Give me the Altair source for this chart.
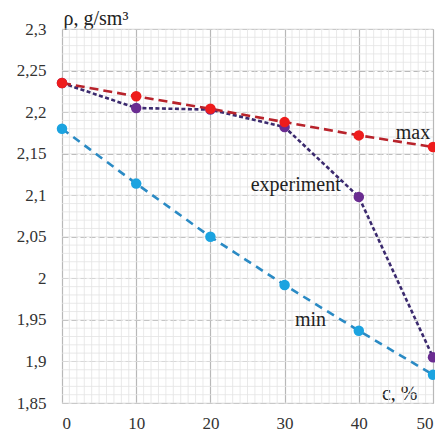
import altair as alt
import pandas as pd

# ---- data ----
c_values = [0, 10, 20, 30, 40, 50]
rho_max = [2.235, 2.219, 2.204, 2.188, 2.172, 2.158]
rho_exp = [2.235, 2.205, 2.203, 2.182, 2.098, 1.905]
rho_min = [2.180, 2.114, 2.050, 1.992, 1.937, 1.884]

x_ticks = [0, 10, 20, 30, 40, 50]
y_ticks = [1.85, 1.9, 1.95, 2.0, 2.05, 2.1, 2.15, 2.2, 2.25, 2.3]
x_minor = [v for v in range(0, 51) if v % 10 != 0]
y_minor = [round(1.85 + 0.01 * i, 2) for i in range(46)]

labels = ["max", "experiment", "min"]
label_c = [47.3, 31.5, 33.5]
label_rho = [2.175, 2.112, 1.950]

FONT = "Liberation Serif"
W, H = 371, 374

xs = alt.Scale(domain=[0, 50], nice=False, zero=False)
ys = alt.Scale(domain=[1.85, 2.3], nice=False, zero=False)

xaxis = alt.Axis(values=x_ticks, grid=True, gridColor="#b8b8b8", gridWidth=1.2,
                 domain=False, ticks=False, labelPadding=12, labelFontSize=17,
                 labelFont=FONT, labelColor="#333333",
                 title="c, %", titleFont=FONT, titleFontSize=20, titleFontWeight="normal",
                 titleColor="#222222", titleAngle=0, titleAlign="right", titleBaseline="alphabetic",
                 titleX=355, titleY=-4)
yaxis = alt.Axis(values=y_ticks, grid=True, gridColor="#b8b8b8", gridWidth=1.2, gridDash=[6, 3],
                 domain=False, ticks=False, labelPadding=16, labelFontSize=17,
                 labelFont=FONT, labelColor="#333333",
                 labelExpr="replace(format(datum.value, '.2~f'), '.', ',')",
                 title="ρ, g/sm³", titleFont=FONT, titleFontSize=20, titleFontWeight="normal",
                 titleColor="#222222", titleAngle=0, titleAlign="left", titleBaseline="alphabetic",
                 titleX=1, titleY=-5)

minor_x = alt.Chart(pd.DataFrame({"c": x_minor})).mark_rule(
    color="#e3e3e3", strokeWidth=0.8).encode(x=alt.X("c:Q", scale=xs, axis=xaxis))
minor_y = alt.Chart(pd.DataFrame({"rho": y_minor})).mark_rule(
    color="#e3e3e3", strokeWidth=0.8).encode(y=alt.Y("rho:Q", scale=ys, axis=yaxis))

series = [
    ("experiment", rho_exp, "#3b2a6e", "#6a2c91", [4, 2.5]),
    ("min", rho_min, "#2a8ac4", "#1ba3e0", [8, 6]),
    ("max", rho_max, "#b8232b", "#ee1c1c", [9, 5]),
]

layers = [minor_x, minor_y]
for name, vals, lc, pc, dash in series:
    df = pd.DataFrame({"c": c_values, "rho": vals})
    base = alt.Chart(df).encode(
        x=alt.X("c:Q", scale=xs, axis=xaxis),
        y=alt.Y("rho:Q", scale=ys, axis=yaxis),
    )
    layers.append(base.mark_line(color=lc, strokeWidth=2.6, strokeDash=dash))
for name, vals, lc, pc, dash in series:
    df = pd.DataFrame({"c": c_values, "rho": vals})
    base = alt.Chart(df).encode(
        x=alt.X("c:Q", scale=xs, axis=xaxis),
        y=alt.Y("rho:Q", scale=ys, axis=yaxis),
    )
    layers.append(base.mark_circle(color=pc, size=110, opacity=1))

lab = alt.Chart(pd.DataFrame({"c": label_c, "rho": label_rho, "t": labels})).mark_text(
    font=FONT, fontSize=20, color="#222222", baseline="middle", align="center"
).encode(x=alt.X("c:Q", scale=xs, axis=xaxis), y=alt.Y("rho:Q", scale=ys, axis=yaxis), text="t:N")
layers.append(lab)

chart = alt.layer(*layers).properties(
    width=W, height=H,
    autosize=alt.AutoSizeParams(type="none"),
    padding={"left": 54, "top": 21, "right": 2, "bottom": 32},
).configure_view(stroke="#c4c4c4", strokeWidth=2).configure(background="white")

chart.save("out.html", embed_options={"renderer": "svg", "actions": False})
